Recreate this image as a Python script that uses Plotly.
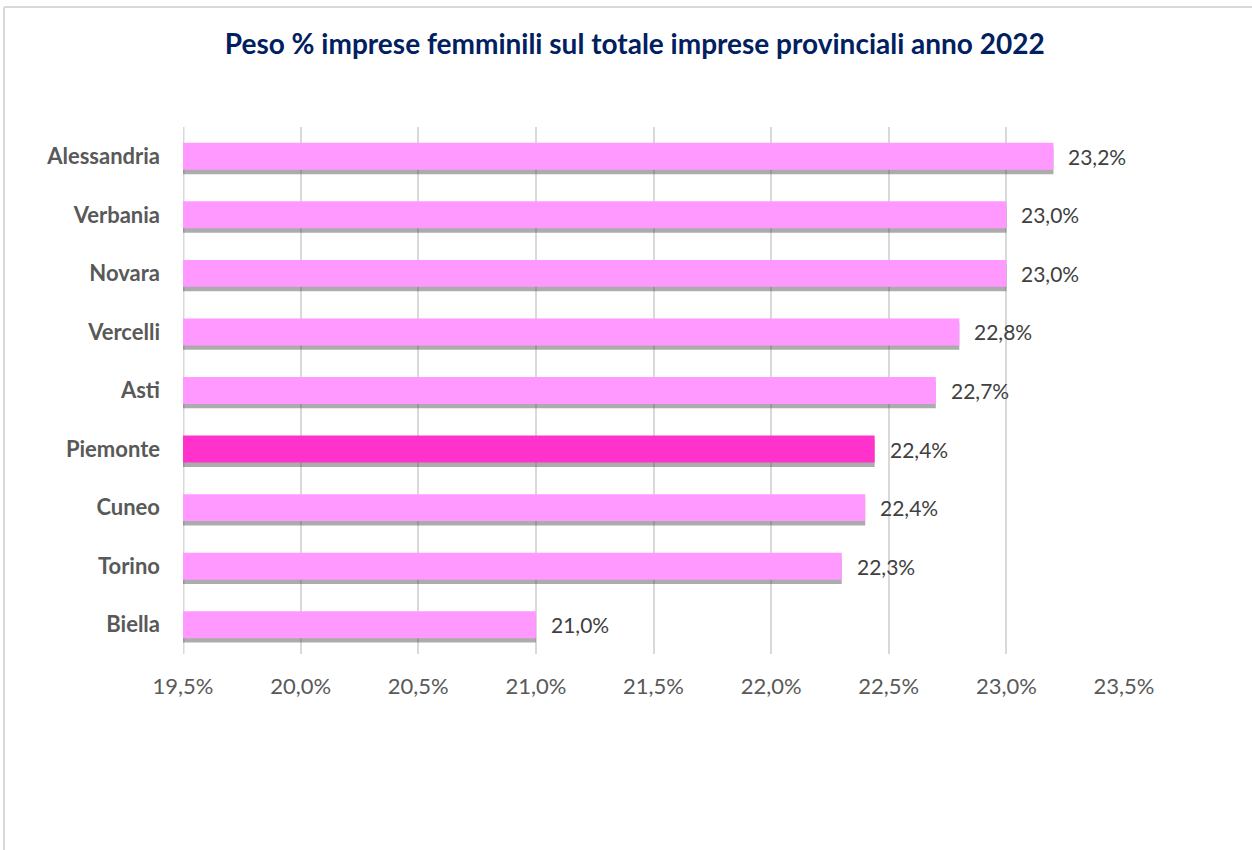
import plotly.graph_objects as go

categories = ["Alessandria", "Verbania", "Novara", "Vercelli", "Asti",
              "Piemonte", "Cuneo", "Torino", "Biella"]
values = [23.2, 23.0, 23.0, 22.8, 22.7, 22.44, 22.40, 22.3, 21.0]
labels = ["23,2%", "23,0%", "23,0%", "22,8%", "22,7%", "22,4%", "22,4%", "22,3%", "21,0%"]
highlight = "Piemonte"
tick_vals = [19.5, 20.0, 20.5, 21.0, 21.5, 22.0, 22.5, 23.0, 23.5]
tick_text = ["19,5%", "20,0%", "20,5%", "21,0%", "21,5%", "22,0%", "22,5%", "23,0%", "23,5%"]
title = "Peso % imprese femminili sul totale imprese provinciali anno 2022"

FONT = "Lato"
BASE = 19.5
bar_w = 0.46
colors = ["#FF33CC" if c == highlight else "#FF99FF" for c in categories]

W, H = 1252, 850
ML, MR, MT, MB = 183, 128, 127, 196
PW, PH = W - ML - MR, H - MT - MB

fig = go.Figure()
# soft shadow under bars
fig.add_trace(go.Bar(
    y=categories, x=[v - BASE for v in values], orientation="h", base=BASE,
    width=bar_w, offset=-bar_w / 2 + 0.075,
    marker=dict(color="rgba(70,70,70,0.45)", line=dict(width=0)),
    hoverinfo="skip", showlegend=False,
))
fig.add_trace(go.Bar(
    y=categories, x=[v - BASE for v in values], orientation="h", base=BASE,
    width=bar_w, offset=-bar_w / 2,
    marker=dict(color=colors, line=dict(width=0)),
    showlegend=False,
))

annotations = [
    dict(x=v, y=c, text=t, xref="x", yref="y", xanchor="left", yanchor="middle",
         xshift=13, showarrow=False, font=dict(family=FONT, size=21, color="#404040"))
    for c, v, t in zip(categories, values, labels)
]

border_x = (4 - ML) / PW
border_y = (PH + MT - 7) / PH

fig.update_layout(
    width=W, height=H,
    margin=dict(l=ML, r=MR, t=MT, b=MB),
    paper_bgcolor="white", plot_bgcolor="white",
    barmode="overlay",
    font=dict(family=FONT, color="#595959"),
    annotations=annotations,
    title=dict(text="<b>" + title + "</b>", x=0.507, xanchor="center",
               y=1 - 44 / H, yanchor="middle",
               font=dict(family=FONT, size=28, color="#002060")),
    xaxis=dict(range=[BASE, 23.5], tickvals=tick_vals, ticktext=tick_text,
               showgrid=True, gridcolor="#D9D9D9", gridwidth=2,
               zeroline=False, showline=False, ticks="",
               tickfont=dict(family=FONT, size=22, color="#595959"),
               ticklabelstandoff=17),
    yaxis=dict(autorange="reversed", showgrid=False, zeroline=False,
               showline=False, ticks="",
               tickfont=dict(family=FONT, size=22, color="#595959", weight="bold"),
               ticklabelstandoff=22),
    shapes=[
        dict(type="line", xref="x", yref="paper", x0=BASE, x1=BASE, y0=0, y1=1,
             line=dict(color="#D9D9D9", width=3), layer="below"),
        dict(type="line", xref="paper", yref="paper", x0=border_x, x1=border_x,
             y0=-MB / PH, y1=border_y, line=dict(color="#D9D9D9", width=2)),
        dict(type="line", xref="paper", yref="paper", x0=border_x, x1=(PW + MR) / PW,
             y0=border_y, y1=border_y, line=dict(color="#D9D9D9", width=2)),
    ],
)

fig.write_html("out.html", config={"displayModeBar": False},
               post_script="document.body.style.margin='0';")
